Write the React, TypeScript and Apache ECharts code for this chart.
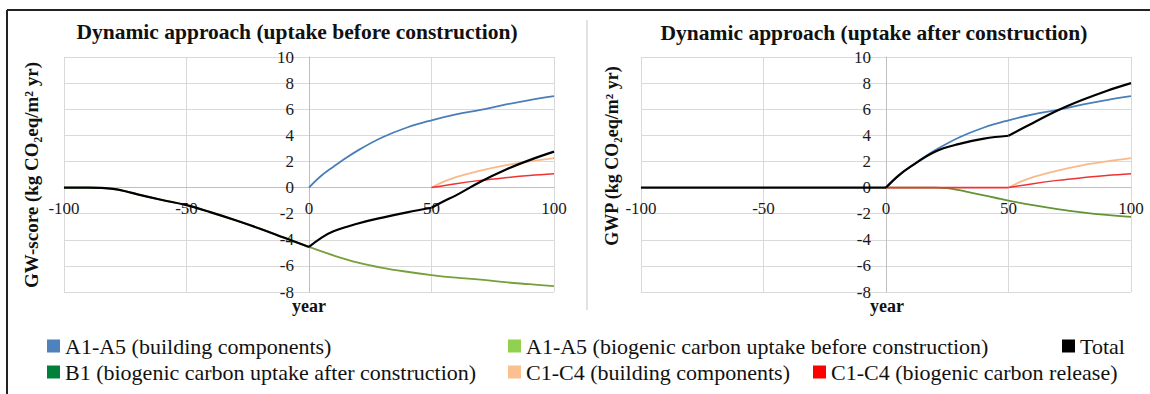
import React, { useEffect, useRef } from "react";
import * as echarts from "echarts";

const SERIF = "Liberation Serif";

// Series names
const N_BLUE = "A1-A5 (building components)";
const N_LGREEN = "A1-A5 (biogenic carbon uptake before construction)";
const N_TOTAL = "Total";
const N_B1 = "B1 (biogenic carbon uptake after construction)";
const N_PEACH = "C1-C4 (building components)";
const N_RED = "C1-C4 (biogenic carbon release)";

// Axis ticks
const xTickMin = -100;
const xTickMax = 100;
const xTickStep = 50;
const yTickMin = -8;
const yTickMax = 10;
const yTickStep = 2;

// A1-A5 building components (both charts)
const blueYears = [0, 5, 10, 13, 20, 30, 40, 50, 60, 70, 80, 90, 100];
const blueValues = [0, 0.9, 1.6, 2.0, 2.85, 3.85, 4.6, 5.15, 5.6, 5.95, 6.35, 6.7, 7.0];

// C1-C4 building components (both charts)
const peachYears = [50, 55, 60, 70, 80, 90, 100];
const peachValues = [0, 0.45, 0.8, 1.3, 1.7, 2.0, 2.25];

// C1-C4 biogenic release
const redYears = [50, 60, 70, 80, 90, 100];
const redValues = [0, 0.3, 0.55, 0.75, 0.92, 1.05];
const redFlatYears = [0, 50];
const redFlatValues = [0, 0];

// Left chart: uptake before construction
const leftUptakeBeforeYears = [-100, -90, -85, -80, -75, -70, -60, -50, -40, -30, -20, -10, 0];
const leftUptakeBeforeValues = [0, 0, -0.02, -0.1, -0.28, -0.52, -0.95, -1.35, -1.9, -2.5, -3.15, -3.85, -4.55];
const leftUptakeAfterYears = [0, 10, 20, 30, 40, 50, 60, 70, 80, 90, 100];
const leftUptakeAfterValues = [-4.55, -5.2, -5.75, -6.15, -6.45, -6.7, -6.9, -7.05, -7.25, -7.4, -7.55];

const leftTotalAYears = leftUptakeBeforeYears;
const leftTotalAValues = leftUptakeBeforeValues;
const leftTotalBYears = [0, 5, 10, 20, 30, 40, 50];
const leftTotalBValues = [-4.55, -3.85, -3.35, -2.75, -2.3, -1.9, -1.55];
const leftTotalCYears = [50, 55, 60, 70, 80, 90, 100];
const leftTotalCValues = [-1.55, -1.05, -0.6, 0.45, 1.35, 2.1, 2.75];

// Right chart: uptake after construction
const b1Years = [0, 10, 20, 25, 30, 35, 40, 45, 50, 60, 70, 80, 90, 100];
const b1Values = [0, 0, 0, -0.05, -0.2, -0.4, -0.6, -0.8, -1.0, -1.35, -1.65, -1.9, -2.1, -2.25];

const rightTotalAYears = [-100, 0];
const rightTotalAValues = [0, 0];
const rightTotalBYears = [0, 5, 10, 20, 30, 40, 50];
const rightTotalBValues = [0, 0.9, 1.6, 2.75, 3.35, 3.75, 3.97];
const rightTotalCYears = [50, 60, 70, 80, 90, 100];
const rightTotalCValues = [3.97, 4.95, 5.9, 6.7, 7.4, 8.0];

const pairs = (xs: number[], ys: number[]) => xs.map((x, i) => [x, ys[i]]);

const C_BLUE = "#4F81BD";
const C_LGREEN = "#92D050";
const C_DGREEN = "#00803A";
const C_PEACH = "#FAC090";
const C_RED = "#FF0000";
const C_BLACK = "#000000";

// grid geometry
const GRID_TOP = 57;
const GRID_H = 235;
const GRID_W = 490;
const LEFT_GRID_X = 64;
const RIGHT_GRID_X = 641;
// place axes where the other axis is zero (labels follow)
const X_AXIS_OFFSET = -(GRID_H * (0 - yTickMin)) / (yTickMax - yTickMin);
const Y_AXIS_OFFSET = -(GRID_W * (0 - xTickMin)) / (xTickMax - xTickMin);

function line(name: string, data: number[][], legendColor: string, color: string, width: number, idx: number) {
  return {
    type: "line",
    name,
    data,
    xAxisIndex: idx,
    yAxisIndex: idx,
    symbol: "none",
    showSymbol: false,
    smooth: 0.4,
    silent: true,
    lineStyle: { color, width },
    itemStyle: { color: legendColor },
    emphasis: { disabled: true },
  };
}

function xAxis(idx: number) {
  return {
    type: "value",
    gridIndex: idx,
    position: "bottom",
    offset: X_AXIS_OFFSET,
    min: xTickMin,
    max: xTickMax,
    interval: xTickStep,
    axisLine: { show: true, onZero: false, lineStyle: { color: "#BFBFBF", width: 1 } },
    axisTick: { show: false },
    axisLabel: { fontFamily: SERIF, fontSize: 17, color: "#1a1a1a", margin: 12 },
    splitLine: { show: true, lineStyle: { color: "#D9D9D9", width: 1 } },
  };
}

function yAxis(idx: number) {
  return {
    type: "value",
    gridIndex: idx,
    position: "left",
    offset: Y_AXIS_OFFSET,
    min: yTickMin,
    max: yTickMax,
    interval: yTickStep,
    axisLine: { show: true, onZero: false, lineStyle: { color: "#BFBFBF", width: 1 } },
    axisTick: { show: false },
    axisLabel: { fontFamily: SERIF, fontSize: 17, color: "#1a1a1a", margin: 15 },
    splitLine: { show: true, lineStyle: { color: "#D9D9D9", width: 1 } },
  };
}

function legendItem(name: string, color: string, left: number, top: number) {
  return {
    left,
    top,
    padding: 0,
    icon: "rect",
    itemWidth: 13,
    itemHeight: 13,
    selectedMode: false,
    data: [{ name, itemStyle: { color, borderWidth: 0 } }],
    textStyle: { fontFamily: SERIF, fontSize: 22, color: "#111" },
  };
}

function text(x: number, y: number, t: string, size: number, rotation = 0) {
  return {
    type: "text",
    x,
    y,
    rotation,
    silent: true,
    style: {
      text: t,
      fontFamily: SERIF,
      fontSize: size,
      fontWeight: "bold",
      fill: "#111",
      align: "center",
      verticalAlign: "middle",
      textAlign: "center",
      textVerticalAlign: "middle",
    },
  };
}

export default function App() {
  const ref = useRef<HTMLDivElement>(null);
  useEffect(() => {
    if (!ref.current) return;
    const chart = echarts.init(ref.current, undefined, { renderer: "svg" });
    chart.setOption({
      animation: false,
      backgroundColor: "#ffffff",
      textStyle: { fontFamily: SERIF },
      grid: [
        { left: LEFT_GRID_X, top: GRID_TOP, width: GRID_W, height: GRID_H },
        { left: RIGHT_GRID_X, top: GRID_TOP, width: GRID_W, height: GRID_H },
      ],
      xAxis: [xAxis(0), xAxis(1)],
      yAxis: [yAxis(0), yAxis(1)],
      legend: [
        legendItem(N_BLUE, C_BLUE, 47, 335),
        legendItem(N_LGREEN, C_LGREEN, 508, 335),
        legendItem(N_TOTAL, C_BLACK, 1062, 335),
        legendItem(N_B1, C_DGREEN, 47, 361),
        legendItem(N_PEACH, C_PEACH, 508, 361),
        legendItem(N_RED, C_RED, 813, 361),
      ],
      series: [
        // Left chart
        line(N_BLUE, pairs(blueYears, blueValues), C_BLUE, "#4A7EBB", 1.8, 0),
        line(N_LGREEN, pairs(leftUptakeBeforeYears, leftUptakeBeforeValues), C_LGREEN, "#77A03C", 1.8, 0),
        line(N_LGREEN, pairs(leftUptakeAfterYears, leftUptakeAfterValues), C_LGREEN, "#77A03C", 1.8, 0),
        line(N_PEACH, pairs(peachYears, peachValues), C_PEACH, "#F9B98A", 1.8, 0),
        line(N_RED, pairs(redYears, redValues), C_RED, "#EE3333", 1.5, 0),
        line(N_TOTAL, pairs(leftTotalAYears, leftTotalAValues), C_BLACK, C_BLACK, 2.2, 0),
        line(N_TOTAL, pairs(leftTotalBYears, leftTotalBValues), C_BLACK, C_BLACK, 2.2, 0),
        line(N_TOTAL, pairs(leftTotalCYears, leftTotalCValues), C_BLACK, C_BLACK, 2.2, 0),
        // Right chart
        line(N_BLUE, pairs(blueYears, blueValues), C_BLUE, "#4A7EBB", 1.8, 1),
        line(N_B1, pairs(b1Years, b1Values), C_DGREEN, "#619533", 1.8, 1),
        line(N_PEACH, pairs(peachYears, peachValues), C_PEACH, "#F9B98A", 1.8, 1),
        line(N_RED, pairs(redFlatYears, redFlatValues), C_RED, "#EE3333", 1.8, 1),
        line(N_RED, pairs(redYears, redValues), C_RED, "#EE3333", 1.5, 1),
        line(N_TOTAL, pairs(rightTotalAYears, rightTotalAValues), C_BLACK, C_BLACK, 2.2, 1),
        line(N_TOTAL, pairs(rightTotalBYears, rightTotalBValues), C_BLACK, C_BLACK, 2.2, 1),
        line(N_TOTAL, pairs(rightTotalCYears, rightTotalCValues), C_BLACK, C_BLACK, 2.2, 1),
      ],
      graphic: [
        { type: "line", silent: true, shape: { x1: 7, y1: 10, x2: 1150, y2: 10 }, style: { stroke: "#222", lineWidth: 2 } },
        { type: "line", silent: true, shape: { x1: 7, y1: 10, x2: 7, y2: 394 }, style: { stroke: "#222", lineWidth: 2 } },
        { type: "line", silent: true, shape: { x1: 587, y1: 20, x2: 587, y2: 310 }, style: { stroke: "#D9D9D9", lineWidth: 1.5 } },
        text(297, 32, "Dynamic approach (uptake before construction)", 21.5),
        text(874, 33, "Dynamic approach (uptake after construction)", 21.5),
        text(31, 175, "GW-score (kg CO₂eq/m² yr)", 19, Math.PI / 2),
        text(612, 156, "GWP (kg CO₂eq/m² yr)", 18, Math.PI / 2),
        text(309, 306, "year", 18),
        text(887, 306, "year", 18),
      ],
    });
    return () => chart.dispose();
  }, []);
  return (
    <div
      ref={ref}
      style={{ position: "absolute", left: 0, top: 0, width: 1150, height: 394, background: "#fff" }}
    />
  );
}
